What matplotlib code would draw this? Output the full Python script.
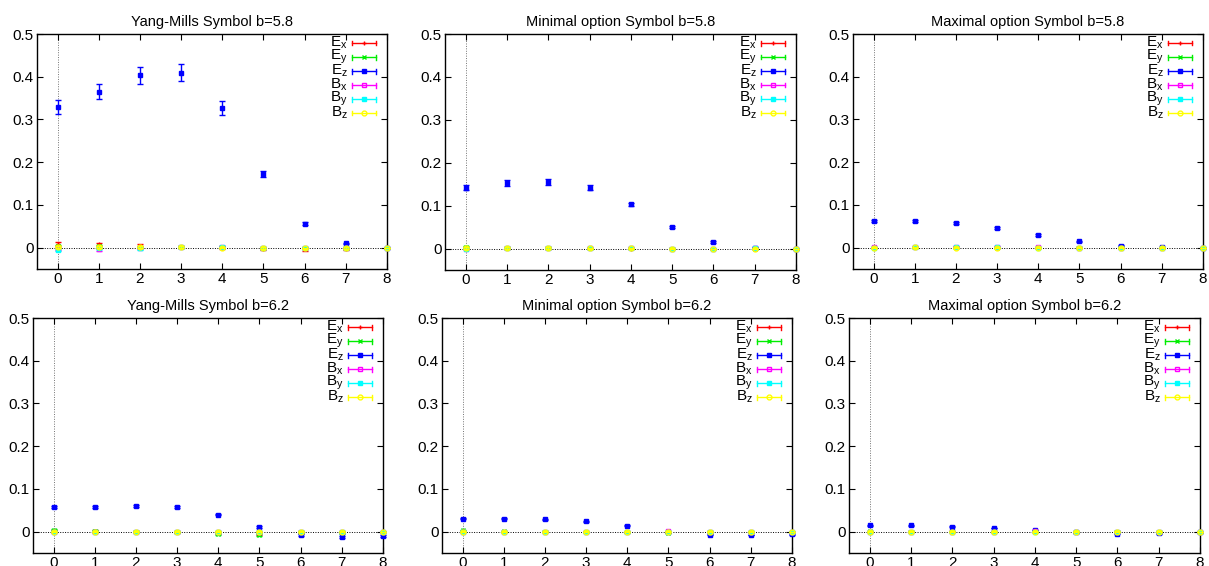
import numpy as np
import matplotlib
matplotlib.use('Agg')
import matplotlib.pyplot as plt
from matplotlib.ticker import FuncFormatter

plt.rcParams['font.family'] = ['Liberation Sans', 'DejaVu Sans']
plt.rcParams['mathtext.fontset'] = 'custom'
plt.rcParams['mathtext.rm'] = 'Liberation Sans'

x = [0, 1, 2, 3, 4, 5, 6, 7, 8]
labels = ['E$_\\mathregular{x}$', 'E$_\\mathregular{y}$', 'E$_\\mathregular{z}$',
          'B$_\\mathregular{x}$', 'B$_\\mathregular{y}$', 'B$_\\mathregular{z}$']
colors = ['#ff0000', '#00ee00', '#0000ff', '#ff00ff', '#00ffff', '#ffff00']
markers = ['+', 'x', 's', 's', 's', 'o']
filled = [True, True, True, False, True, False]

titles = ['Yang-Mills Symbol b=5.8', 'Minimal option Symbol b=5.8', 'Maximal option Symbol b=5.8',
          'Yang-Mills Symbol b=6.2', 'Minimal option Symbol b=6.2', 'Maximal option Symbol b=6.2']

# rows: Ex, Ey, Ez, Bx, By, Bz
ym58_vals = [[0.008, 0.008, 0.005, 0.001, 0.0, -0.003, -0.004, -0.003, 0.0],
             [0.003, 0.003, 0.002, 0.001, 0.001, -0.001, -0.001, -0.001, 0.0],
             [0.329, 0.365, 0.403, 0.409, 0.327, 0.172, 0.056, 0.010, 0.0],
             [-0.003, -0.004, 0.0, 0.001, 0.002, 0.0, -0.001, 0.0, 0.0],
             [-0.005, -0.001, -0.002, 0.001, 0.001, -0.001, -0.001, -0.001, 0.0],
             [0.002, 0.002, 0.001, 0.001, 0.0, -0.001, -0.002, -0.001, 0.0]]
ym58_errs = [[0.005, 0.004, 0.004, 0.003, 0.003, 0.003, 0.003, 0.002, 0.0],
             [0.003, 0.003, 0.003, 0.002, 0.002, 0.002, 0.002, 0.002, 0.0],
             [0.016, 0.018, 0.020, 0.020, 0.016, 0.007, 0.003, 0.002, 0.0],
             [0.003, 0.003, 0.003, 0.002, 0.002, 0.002, 0.002, 0.002, 0.0],
             [0.003, 0.003, 0.003, 0.002, 0.002, 0.002, 0.002, 0.002, 0.0],
             [0.003, 0.003, 0.003, 0.002, 0.002, 0.002, 0.002, 0.002, 0.0]]

min58_vals = [[0.002, 0.002, 0.001, 0.001, 0.0, 0.0, -0.001, 0.0, 0.0],
              [0.004, 0.002, 0.001, 0.001, 0.001, 0.0, -0.001, 0.0, 0.0],
              [0.142, 0.152, 0.154, 0.142, 0.103, 0.050, 0.015, 0.002, 0.0],
              [0.0, 0.002, 0.002, 0.002, 0.002, 0.0, -0.001, 0.001, 0.0],
              [0.0, 0.001, 0.001, 0.001, 0.001, 0.0, -0.001, 0.001, 0.0],
              [0.001, 0.002, 0.001, 0.001, 0.001, 0.0, -0.001, 0.0, 0.0]]
min58_errs = [[0.002, 0.002, 0.002, 0.001, 0.001, 0.001, 0.001, 0.001, 0.0],
              [0.002, 0.002, 0.002, 0.001, 0.001, 0.001, 0.001, 0.001, 0.0],
              [0.006, 0.007, 0.007, 0.005, 0.004, 0.002, 0.002, 0.001, 0.0],
              [0.002, 0.002, 0.002, 0.001, 0.001, 0.001, 0.001, 0.001, 0.0],
              [0.002, 0.002, 0.002, 0.001, 0.001, 0.001, 0.001, 0.001, 0.0],
              [0.002, 0.002, 0.002, 0.001, 0.001, 0.001, 0.001, 0.001, 0.0]]

max58_vals = [[0.001, 0.001, 0.001, 0.0, 0.0, 0.0, 0.0, 0.0, 0.0],
              [0.001, 0.001, 0.001, 0.0, 0.0, 0.0, 0.0, 0.0, 0.0],
              [0.062, 0.062, 0.057, 0.046, 0.030, 0.015, 0.005, 0.001, 0.0],
              [0.001, 0.002, 0.002, 0.002, 0.001, 0.0, 0.0, 0.0, 0.0],
              [0.0, 0.001, 0.001, 0.001, 0.0, 0.0, 0.0, 0.0, 0.0],
              [0.0, 0.001, 0.0, 0.0, 0.0, 0.0, 0.0, 0.0, 0.0]]
max58_errs = [[0.001, 0.001, 0.001, 0.001, 0.001, 0.001, 0.001, 0.001, 0.0],
              [0.001, 0.001, 0.001, 0.001, 0.001, 0.001, 0.001, 0.001, 0.0],
              [0.002, 0.002, 0.002, 0.002, 0.002, 0.001, 0.001, 0.001, 0.0],
              [0.001, 0.001, 0.001, 0.001, 0.001, 0.001, 0.001, 0.001, 0.0],
              [0.001, 0.001, 0.001, 0.001, 0.001, 0.001, 0.001, 0.001, 0.0],
              [0.001, 0.001, 0.001, 0.001, 0.001, 0.001, 0.001, 0.001, 0.0]]

ym62_vals = [[0.002, 0.001, 0.0, -0.001, -0.003, -0.005, -0.001, -0.002, 0.0],
             [0.005, 0.002, 0.0, -0.002, -0.005, -0.008, -0.002, -0.004, 0.0],
             [0.057, 0.058, 0.060, 0.057, 0.040, 0.011, -0.008, -0.012, -0.010],
             [-0.001, -0.001, -0.001, 0.0, 0.0, 0.0, 0.0, 0.0, 0.0],
             [0.0, 0.0, 0.0, 0.0, -0.001, -0.001, 0.0, -0.001, 0.0],
             [0.0, 0.0, 0.0, 0.0, 0.0, 0.0, 0.0, 0.0, 0.0]]
ym62_errs = [[0.002, 0.002, 0.002, 0.002, 0.002, 0.002, 0.002, 0.002, 0.0],
             [0.002, 0.002, 0.002, 0.002, 0.002, 0.002, 0.002, 0.002, 0.0],
             [0.002, 0.002, 0.002, 0.002, 0.002, 0.002, 0.002, 0.002, 0.002],
             [0.002, 0.002, 0.002, 0.002, 0.002, 0.002, 0.002, 0.002, 0.0],
             [0.002, 0.002, 0.002, 0.002, 0.002, 0.002, 0.002, 0.002, 0.0],
             [0.002, 0.002, 0.002, 0.002, 0.002, 0.002, 0.002, 0.002, 0.0]]

min62_vals = [[0.001, 0.0, 0.0, -0.001, -0.001, -0.002, 0.0, -0.001, 0.0],
              [0.003, 0.001, 0.0, -0.001, -0.002, -0.003, -0.001, -0.001, 0.0],
              [0.030, 0.030, 0.029, 0.024, 0.014, -0.001, -0.007, -0.008, -0.006],
              [0.0, 0.0, 0.0, 0.0, 0.0, 0.001, 0.0, 0.0, 0.0],
              [0.0, 0.0, 0.0, -0.001, 0.0, 0.0, 0.0, 0.0, 0.0],
              [0.0, 0.0, 0.0, 0.0, 0.0, 0.0, 0.0, 0.0, 0.0]]
min62_errs = [[0.001, 0.001, 0.001, 0.001, 0.001, 0.001, 0.001, 0.001, 0.0],
              [0.001, 0.001, 0.001, 0.001, 0.001, 0.001, 0.001, 0.001, 0.0],
              [0.001, 0.001, 0.001, 0.001, 0.001, 0.001, 0.001, 0.001, 0.001],
              [0.001, 0.001, 0.001, 0.001, 0.001, 0.001, 0.001, 0.001, 0.0],
              [0.001, 0.001, 0.001, 0.001, 0.001, 0.001, 0.001, 0.001, 0.0],
              [0.001, 0.001, 0.001, 0.001, 0.001, 0.001, 0.001, 0.001, 0.0]]

max62_vals = [[0.0, 0.0, 0.0, 0.0, 0.0, -0.001, 0.0, 0.0, 0.0],
              [0.001, 0.0, 0.0, -0.001, -0.001, -0.002, 0.0, -0.001, 0.0],
              [0.015, 0.015, 0.012, 0.0085, 0.004, -0.002, -0.005, -0.004, -0.002],
              [0.0, 0.0, 0.0, 0.0, 0.001, 0.0, 0.0, 0.0, 0.0],
              [0.0, 0.0, -0.001, 0.0, 0.0, 0.0, 0.0, 0.0, 0.0],
              [0.0, 0.0, 0.0, 0.0, 0.0, 0.0, 0.0, 0.0, 0.0]]
max62_errs = [[0.001, 0.001, 0.001, 0.001, 0.001, 0.001, 0.001, 0.001, 0.0],
              [0.001, 0.001, 0.001, 0.001, 0.001, 0.001, 0.001, 0.001, 0.0],
              [0.001, 0.001, 0.001, 0.001, 0.001, 0.001, 0.001, 0.001, 0.001],
              [0.001, 0.001, 0.001, 0.001, 0.001, 0.001, 0.001, 0.001, 0.0],
              [0.001, 0.001, 0.001, 0.001, 0.001, 0.001, 0.001, 0.001, 0.0],
              [0.001, 0.001, 0.001, 0.001, 0.001, 0.001, 0.001, 0.001, 0.0]]

panel_vals = [ym58_vals, min58_vals, max58_vals, ym62_vals, min62_vals, max62_vals]
panel_errs = [ym58_errs, min58_errs, max58_errs, ym62_errs, min62_errs, max62_errs]

# axes boxes in pixels: left, right, top, bottom
W, H = 1209, 566
boxes = [(37, 387, 34, 269), (445, 796, 34, 270), (853, 1203, 34, 269),
         (33, 383, 318, 553), (442, 792, 318, 553), (849, 1200, 318, 553)]

fig = plt.figure(figsize=(W / 100, H / 100), dpi=100)


def ytick_fmt(v, pos):
    if abs(v) < 1e-9:
        return '0'
    return '%.1f' % v


for k in range(6):
    l, r, t, b = boxes[k]
    ax = fig.add_axes([l / W, (H - b) / H, (r - l) / W, (b - t) / H])
    ax.axhline(0, color='black', ls=(0, (1, 1.5)), lw=0.7, zorder=1)
    ax.axvline(0, color='0.45', ls=(0, (1, 1.5)), lw=0.7, zorder=1)

    for i in range(6):
        fc = colors[i] if filled[i] else 'none'
        ax.errorbar(x, panel_vals[k][i], yerr=panel_errs[k][i], fmt=markers[i],
                    color=colors[i], mfc=fc, mec=colors[i], ms=3.5, mew=1.0,
                    elinewidth=1.0, capsize=2, capthick=1.0, clip_on=False, zorder=3 + i)

    ax.set_xlim(-0.5, 8)
    ax.set_ylim(-0.05, 0.5)
    ax.set_xticks(range(9))
    ax.set_yticks([0, 0.1, 0.2, 0.3, 0.4, 0.5])
    ax.yaxis.set_major_formatter(FuncFormatter(ytick_fmt))
    ax.tick_params(direction='in', length=4, width=0.8, top=True, right=True,
                   labelsize=11, pad=2.5)
    for s in ax.spines.values():
        s.set_linewidth(1.0)
    ax.set_title(titles[k], fontsize=10.5, pad=6)

    # gnuplot style key, top right
    aw, ah = r - l, b - t
    for i in range(6):
        yk = 1 - (9 + 14 * i) / ah
        x0, x1 = 1 - 35 / aw, 1 - 11 / aw
        ax.text(1 - 39 / aw, yk, labels[i], transform=ax.transAxes, ha='right',
                va='center', fontsize=11)
        ax.plot([x0, x1], [yk, yk], color=colors[i], lw=1.0, transform=ax.transAxes,
                clip_on=False)
        for xe in (x0, x1):
            ax.plot([xe, xe], [yk - 2.5 / ah, yk + 2.5 / ah], color=colors[i], lw=1.0,
                    transform=ax.transAxes, clip_on=False)
        fc = colors[i] if filled[i] else 'none'
        ax.plot([(x0 + x1) / 2], [yk], marker=markers[i], color=colors[i], mfc=fc,
                mec=colors[i], ms=3.5, mew=1.0, transform=ax.transAxes, clip_on=False)

fig.savefig('out.png', dpi=100)
